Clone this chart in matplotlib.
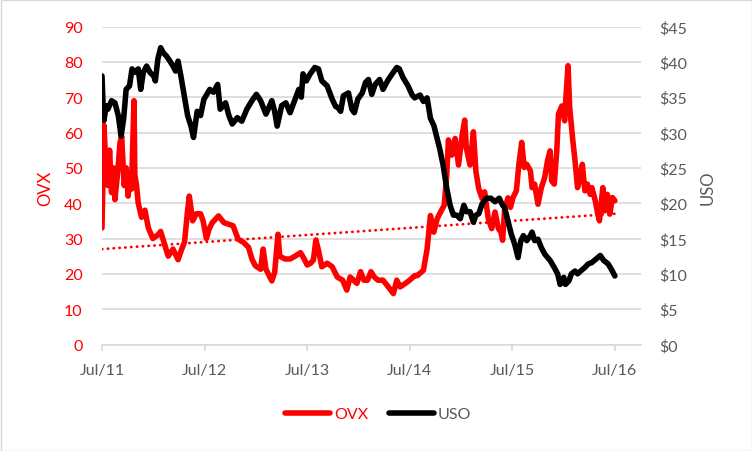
import numpy as np
import pandas as pd
import matplotlib
matplotlib.use("Agg")
import matplotlib.pyplot as plt
import matplotlib.dates as mdates
from matplotlib.patches import Rectangle
from matplotlib.ticker import FuncFormatter

plt.rcParams['font.family'] = ['Lato', 'DejaVu Sans']

# OVX (left axis)
ovx_dates = [
    "2011-07-01", "2011-07-08", "2011-07-14", "2011-07-22", "2011-07-28", "2011-08-04", "2011-08-10",
    "2011-08-16", "2011-08-25", "2011-09-03", "2011-09-09", "2011-09-18", "2011-09-25", "2011-10-02",
    "2011-10-08", "2011-10-14", "2011-10-23", "2011-10-26", "2011-11-01", "2011-11-07", "2011-11-19",
    "2011-12-01", "2011-12-13", "2011-12-29", "2012-01-16", "2012-01-26", "2012-02-10", "2012-02-22",
    "2012-03-10", "2012-03-28", "2012-04-10", "2012-04-20", "2012-05-01", "2012-05-07", "2012-05-19",
    "2012-06-01", "2012-06-16", "2012-06-25", "2012-07-07", "2012-07-16", "2012-07-28", "2012-08-19",
    "2012-09-07", "2012-09-25", "2012-10-10", "2012-10-28", "2012-11-16", "2012-12-04", "2012-12-16",
    "2012-12-28", "2013-01-16", "2013-01-25", "2013-02-04", "2013-02-16", "2013-02-25", "2013-03-07",
    "2013-03-19", "2013-03-25", "2013-04-13", "2013-05-01", "2013-05-19", "2013-06-07", "2013-06-19",
    "2013-07-01", "2013-07-13", "2013-07-23", "2013-08-01", "2013-08-10", "2013-08-22", "2013-09-10",
    "2013-09-28", "2013-10-16", "2013-11-04", "2013-11-19", "2013-12-01", "2013-12-13", "2013-12-25",
    "2014-01-07", "2014-01-19", "2014-02-01", "2014-02-13", "2014-02-25", "2014-03-10", "2014-03-28",
    "2014-04-16", "2014-05-04", "2014-05-16", "2014-05-28", "2014-06-16", "2014-07-01", "2014-07-19",
    "2014-07-28", "2014-08-19", "2014-09-01", "2014-09-13", "2014-09-25", "2014-10-07", "2014-10-19",
    "2014-11-01", "2014-11-10", "2014-11-16", "2014-11-28", "2014-12-10", "2014-12-22", "2015-01-04",
    "2015-01-13", "2015-01-19", "2015-02-01", "2015-02-13", "2015-02-22", "2015-03-04", "2015-03-16",
    "2015-03-25", "2015-04-07", "2015-04-19", "2015-05-01", "2015-05-13", "2015-05-22", "2015-05-28",
    "2015-06-04", "2015-06-16", "2015-06-25", "2015-07-04", "2015-07-16", "2015-07-25", "2015-08-04",
    "2015-08-13", "2015-08-22", "2015-09-04", "2015-09-10", "2015-09-19", "2015-10-01", "2015-10-13",
    "2015-10-25", "2015-11-04", "2015-11-13", "2015-11-19", "2015-11-28", "2015-12-07", "2015-12-13",
    "2015-12-25", "2016-01-04", "2016-01-07", "2016-01-16", "2016-01-22", "2016-02-01", "2016-02-10",
    "2016-02-19", "2016-02-28", "2016-03-07", "2016-03-16", "2016-03-25", "2016-04-04", "2016-04-10",
    "2016-04-22", "2016-05-01", "2016-05-07", "2016-05-19", "2016-05-25", "2016-06-04", "2016-06-13",
    "2016-06-22", "2016-07-01",
]
ovx_vals = [
    33, 62, 52, 45, 55, 43, 50,
    41, 48, 57, 59, 45, 50, 42,
    47, 44, 69, 48, 45, 40, 36,
    38, 33, 30, 31, 32, 28, 25,
    27, 24, 27, 29, 38, 42, 35,
    37, 37, 35, 30, 32.6, 34.5, 36.4,
    34.5, 34, 33.6, 29.8, 28.9, 27.5, 24.2,
    22.3, 21.3, 27, 21.3, 19.4, 18, 20.4,
    31.2, 25, 24.2, 24.2, 25, 26, 24.4,
    22.5, 23, 23.9, 29.6, 26.7, 22, 23,
    22, 19.1, 18.2, 15.4, 19.1, 18.2, 17.3,
    20.6, 18.2, 18.2, 20.6, 19.1, 18.2, 18.2,
    16.3, 14.4, 18.2, 16.3, 17.3, 18.2, 19.5,
    19.5, 21, 27, 36.5, 31.8, 35.6, 37.5,
    39.4, 48, 57.9, 53.6, 58.3, 50.8, 59.3,
    63.5, 55.5, 50.8, 60.2, 48.9, 44.1, 41.3,
    43.2, 35.6, 32.8, 37.5, 32.8, 31.8, 29.5,
    38, 41.5, 38.8, 41.6, 43.5, 51, 57.2,
    50.1, 51, 49.2, 44.4, 45.4, 39.7, 44.4,
    47.3, 52, 54.8, 46.3, 45.4, 54.8, 65.2,
    67.5, 63.3, 68, 78.9, 67.1, 58.6, 52,
    44.4, 47.3, 51, 43.5, 45.4, 42.5, 44.4,
    40.7, 36.9, 35, 44.4, 37.8, 42.5, 36.9,
    41.6, 40.7,
]

# USO (right axis, dollars)
uso_dates = [
    "2011-07-01", "2011-07-04", "2011-07-08", "2011-07-16", "2011-07-22", "2011-08-04", "2011-08-16",
    "2011-08-28", "2011-09-07", "2011-09-16", "2011-09-25", "2011-10-07", "2011-10-16", "2011-10-25",
    "2011-11-07", "2011-11-16", "2011-11-25", "2011-12-07", "2011-12-19", "2012-01-01", "2012-01-07",
    "2012-01-16", "2012-01-26", "2012-02-04", "2012-02-16", "2012-02-28", "2012-03-10", "2012-03-19",
    "2012-03-28", "2012-04-07", "2012-04-19", "2012-05-01", "2012-05-13", "2012-05-22", "2012-06-04",
    "2012-06-16", "2012-06-28", "2012-07-19", "2012-08-01", "2012-08-16", "2012-08-25", "2012-09-13",
    "2012-09-25", "2012-10-07", "2012-10-25", "2012-11-10", "2012-11-28", "2012-12-16", "2013-01-01",
    "2013-01-16", "2013-02-04", "2013-02-25", "2013-03-07", "2013-03-16", "2013-04-01", "2013-04-16",
    "2013-05-01", "2013-05-19", "2013-06-01", "2013-06-10", "2013-06-16", "2013-06-28", "2013-07-10",
    "2013-07-28", "2013-08-10", "2013-08-22", "2013-09-10", "2013-09-28", "2013-10-10", "2013-10-19",
    "2013-10-28", "2013-11-07", "2013-11-25", "2013-12-07", "2013-12-16", "2013-12-28", "2014-01-13",
    "2014-01-25", "2014-02-04", "2014-02-16", "2014-02-28", "2014-03-16", "2014-03-28", "2014-04-13",
    "2014-04-28", "2014-05-16", "2014-05-25", "2014-06-07", "2014-06-25", "2014-07-10", "2014-07-19",
    "2014-08-07", "2014-08-19", "2014-09-01", "2014-09-13", "2014-09-25", "2014-10-04", "2014-10-16",
    "2014-10-28", "2014-11-10", "2014-11-22", "2014-12-04", "2014-12-16", "2014-12-28", "2015-01-10",
    "2015-01-19", "2015-02-01", "2015-02-13", "2015-02-22", "2015-03-04", "2015-03-16", "2015-04-01",
    "2015-04-16", "2015-05-01", "2015-05-16", "2015-05-28", "2015-06-04", "2015-06-16", "2015-06-28",
    "2015-07-10", "2015-07-22", "2015-08-01", "2015-08-10", "2015-08-22", "2015-09-04", "2015-09-10",
    "2015-09-19", "2015-10-01", "2015-10-13", "2015-10-25", "2015-11-13", "2015-11-28", "2015-12-10",
    "2015-12-19", "2016-01-01", "2016-01-07", "2016-01-19", "2016-01-28", "2016-02-10", "2016-02-19",
    "2016-03-01", "2016-03-16", "2016-03-28", "2016-04-10", "2016-04-25", "2016-05-10", "2016-05-22",
    "2016-06-07", "2016-06-19", "2016-07-01",
]
uso_vals = [
    38, 34.7, 31.7, 33.8, 33.3, 34.5, 34.2,
    32.4, 29.5, 31.9, 36.1, 36.6, 39, 38.5,
    39, 36.1, 38.5, 39.4, 38.5, 38, 37.3,
    40.4, 42, 41.3, 40.8, 40.1, 39.4, 38.7,
    40.1, 38, 35.2, 32.4, 30.9, 29.3, 33,
    32.4, 34.7, 36.1, 35.7, 36.8, 33.3, 34.2,
    32.4, 31.2, 32.1, 31.6, 33.3, 34.5, 35.4,
    34.5, 32.6, 34.5, 33, 30.9, 33.8, 34.2,
    32.8, 34.7, 36.1, 35, 38.3, 37.3, 38.2,
    39.2, 39, 37.3, 36.6, 34.7, 33.7, 33.5,
    33, 35.2, 35.6, 33.3, 32.8, 34.7, 35.6,
    37.1, 37.5, 35.4, 36.8, 37.5, 36.1, 37.3,
    38.2, 39.2, 39, 37.8, 36.6, 35.3, 34.9,
    35.3, 34.4, 34.9, 32, 31, 29.6, 27.7,
    25.4, 22.1, 19.7, 18.3, 18.3, 17.8, 19.7,
    18.8, 18.8, 17.3, 18.3, 18.5, 19.9, 20.7,
    20.7, 20.2, 20.7, 19.7, 19.4, 17.5, 15.6,
    14.2, 12.3, 14.7, 15.4, 14.7, 15.4, 15.9,
    14.7, 14.9, 13.7, 12.8, 11.9, 10.9, 10,
    8.5, 9.5, 8.5, 9, 10, 10.4, 10,
    10.4, 10.9, 11.4, 11.6, 12.1, 12.6, 11.9,
    11.4, 10.6, 9.7,
]

# linear trendline on OVX as shown in the chart
trend_dates = ["2011-07-01", "2016-07-01"]
trend_vals = [27.0, 37.0]

tick_years = [2011, 2012, 2013, 2014, 2015, 2016]

GRID = "#D9D9D9"
TXT = "#595959"


def main():
    fig = plt.figure(figsize=(7.52, 4.52), dpi=100)
    ax = fig.add_axes([102 / 752, 1 - 345.5 / 452, (641 - 102) / 752, (345.5 - 27.5) / 452])
    ax2 = ax.twinx()

    ax.plot(pd.to_datetime(ovx_dates), ovx_vals, color="red", lw=4.0, label="OVX",
            solid_joinstyle="round", solid_capstyle="round", zorder=3)
    ax.plot(pd.to_datetime(trend_dates), trend_vals, color="red", lw=2.0,
            linestyle=(0, (0.1, 2.0)), dash_capstyle="round", zorder=4)
    ax2.plot(pd.to_datetime(uso_dates), uso_vals, color="black", lw=4.0, label="USO",
             solid_joinstyle="round", solid_capstyle="round", zorder=3)

    ax.set_xlim(pd.Timestamp("2011-07-01"), pd.Timestamp("2016-10-02"))
    ax.set_ylim(0, 90)
    ax2.set_ylim(0, 45)
    ax.set_yticks(np.arange(0, 91, 10))
    ax2.set_yticks(np.arange(0, 46, 5))
    ax2.yaxis.set_major_formatter(FuncFormatter(lambda v, p: "$%d" % v))

    ax.set_xticks([pd.Timestamp("%d-07-01" % y) for y in tick_years])
    ax.xaxis.set_major_formatter(mdates.DateFormatter("%b/%y"))

    ax.grid(axis="y", color=GRID, lw=1.2)
    ax.set_axisbelow(True)
    for a in (ax, ax2):
        for s in a.spines.values():
            s.set_visible(False)
    ax.spines["bottom"].set_visible(True)
    ax.spines["bottom"].set_color(GRID)
    ax.spines["bottom"].set_linewidth(1.2)

    ax.tick_params(axis="x", colors=GRID, length=4, width=1.2, pad=9, labelsize=11.5,
                   labelcolor=TXT)
    ax.tick_params(axis="y", length=0, pad=14, labelsize=11.5, labelcolor="red")
    ax2.tick_params(axis="y", length=0, pad=13, labelsize=11.5, labelcolor=TXT)

    fig.text(45 / 752, 1 - 188 / 452, "OVX", color="red", fontsize=12, rotation=90,
             ha="center", va="center")
    fig.text(708 / 752, 1 - 188 / 452, "USO", color=TXT, fontsize=12, rotation=90,
             ha="center", va="center")

    h1, l1 = ax.get_legend_handles_labels()
    h2, l2 = ax2.get_legend_handles_labels()
    leg = fig.legend(h1 + h2, l1 + l2, loc="center", bbox_to_anchor=(0.503, 1 - 415 / 452),
                     ncol=2, frameon=False, fontsize=11.5, handlelength=2.8,
                     handletextpad=0.25, columnspacing=1.3)
    leg.get_texts()[0].set_color("red")
    leg.get_texts()[1].set_color(TXT)

    fig.patches.append(Rectangle((0.5 / 752, 0.5 / 452), 1 - 1 / 752, 1 - 1 / 452,
                                 transform=fig.transFigure, fill=False,
                                 edgecolor=GRID, lw=1.0))

    fig.savefig("out.png", dpi=100)
    plt.close(fig)


if __name__ == '__main__':
    main()
